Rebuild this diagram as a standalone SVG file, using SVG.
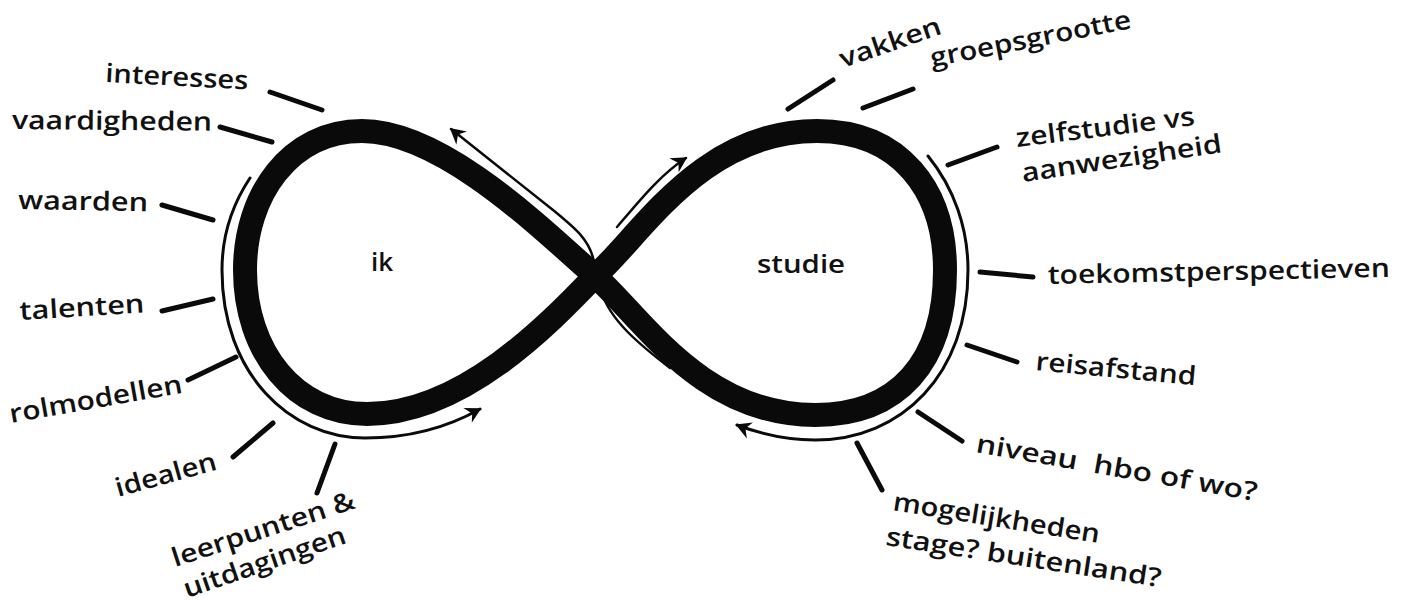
<svg xmlns="http://www.w3.org/2000/svg" width="1410" height="605" viewBox="0 0 1410 605">
  <style>
    .lbl { font-family: "Open Sans", "Noto Sans", "DejaVu Sans", sans-serif; font-size: 26px; font-weight: 600; fill: #111; }
    .ctr { font-family: "Open Sans", "Noto Sans", "DejaVu Sans", sans-serif; font-size: 26px; font-weight: 600; fill: #111; }
    .tick { stroke: #0a0a0a; stroke-width: 5; stroke-linecap: round; fill: none; }
    .thin { stroke: #0a0a0a; stroke-width: 3; stroke-linecap: round; fill: none; }
    .thinner { stroke: #0a0a0a; stroke-width: 2.5; stroke-linecap: round; fill: none; }
  </style>
  <defs>
    <marker id="ah" viewBox="-17 -10 20 20" markerWidth="20" markerHeight="20" refX="0" refY="0" orient="auto" markerUnits="userSpaceOnUse">
      <path d="M1.5,0 L-14,-9 L-9,0 L-14,8 Z" fill="#0a0a0a"/>
    </marker>
  </defs>
  <rect width="1410" height="605" fill="#ffffff"/>

  <g id="infinity">
    <path d="M595,276 C 535,222 440,131 362,131 C 290,131 245,195 245,270 C 245,352 295,414 367,414 C 462,414 548,325 595,276 C 640,237 700,131 817,131 C 900,131 945,190 945,270 C 945,362 898,415 815,415 C 700,415 640,315 595,276 Z" fill="none" stroke="#0a0a0a" stroke-width="24" stroke-linejoin="round"/>
  </g>

  <g id="flow-arrows">
    <path class="thin" d="M250,178 C 232,205 222,235 222,270 C 222,374 290,438 365,438 C 410,438 450,426 480,409" marker-end="url(#ah)"/>
    <path class="thin" d="M928,156 C 954,188 968,228 968,270 C 968,374 902,440 815,440 C 785,440 758,433 737,425" marker-end="url(#ah)"/>
    <path class="thinner" d="M594,262 C 590,240 575,228 553,210 C 530,192 490,160 451,129" marker-end="url(#ah)"/>
    <path class="thinner" d="M617,227 C 640,200 660,175 686,158" marker-end="url(#ah)"/>
    <path class="thinner" d="M602,293 C 610,320 640,345 670,368"/>
  </g>

  <g id="connectors">
    <line class="tick" x1="270" y1="92" x2="322" y2="110"/>
    <line class="tick" x1="220" y1="127" x2="272" y2="142"/>
    <line class="tick" x1="162" y1="205" x2="213" y2="220"/>
    <line class="tick" x1="162" y1="311" x2="213" y2="299"/>
    <line class="tick" x1="188" y1="380" x2="236" y2="357"/>
    <line class="tick" x1="233" y1="457" x2="273" y2="423"/>
    <line class="tick" x1="317" y1="493" x2="335" y2="444"/>
    <line class="tick" x1="788" y1="109" x2="833" y2="80"/>
    <line class="tick" x1="863" y1="108" x2="913" y2="89"/>
    <line class="tick" x1="948" y1="165" x2="997" y2="147"/>
    <line class="tick" x1="980" y1="272" x2="1033" y2="277"/>
    <line class="tick" x1="967" y1="345" x2="1017" y2="362"/>
    <line class="tick" x1="918" y1="412" x2="962" y2="441"/>
    <line class="tick" x1="857" y1="443" x2="882" y2="490"/>
  </g>

  <g id="node-ik"><text class="ctr" x="371" y="271">ik</text></g>
  <g id="node-studie"><text class="ctr" x="757" y="273" textLength="88" lengthAdjust="spacingAndGlyphs">studie</text></g>

  <g id="label-interesses"><text class="lbl" transform="translate(105,82) rotate(3)" textLength="143" lengthAdjust="spacingAndGlyphs">interesses</text></g>
  <g id="label-vaardigheden"><text class="lbl" transform="translate(12,129) rotate(0.5)" textLength="200" lengthAdjust="spacingAndGlyphs">vaardigheden</text></g>
  <g id="label-waarden"><text class="lbl" transform="translate(18,209) rotate(1)" textLength="130" lengthAdjust="spacingAndGlyphs">waarden</text></g>
  <g id="label-talenten"><text class="lbl" transform="translate(20,320) rotate(-3.5)" textLength="125" lengthAdjust="spacingAndGlyphs">talenten</text></g>
  <g id="label-rolmodellen"><text class="lbl" transform="translate(11,423) rotate(-10)" textLength="175" lengthAdjust="spacingAndGlyphs">rolmodellen</text></g>
  <g id="label-idealen"><text class="lbl" transform="translate(118,497) rotate(-15.5)" textLength="104" lengthAdjust="spacingAndGlyphs">idealen</text></g>
  <g id="label-leerpunten">
    <text class="lbl" transform="translate(175,567) rotate(-18)" textLength="191" lengthAdjust="spacingAndGlyphs">leerpunten &amp;</text>
    <text class="lbl" transform="translate(187,598) rotate(-19)" textLength="170" lengthAdjust="spacingAndGlyphs">uitdagingen</text>
  </g>

  <g id="label-vakken"><text class="lbl" transform="translate(843,68) rotate(-19)" textLength="106" lengthAdjust="spacingAndGlyphs">vakken</text></g>
  <g id="label-groepsgrootte"><text class="lbl" transform="translate(932,67) rotate(-11)" textLength="204" lengthAdjust="spacingAndGlyphs">groepsgrootte</text></g>
  <g id="label-zelfstudie">
    <text class="lbl" transform="translate(1017,147) rotate(-7)" textLength="180" lengthAdjust="spacingAndGlyphs">zelfstudie vs</text>
    <text class="lbl" transform="translate(1023,182) rotate(-8.5)" textLength="202" lengthAdjust="spacingAndGlyphs">aanwezigheid</text>
  </g>
  <g id="label-toekomst"><text class="lbl" transform="translate(1048,284) rotate(-1.2)" textLength="342" lengthAdjust="spacingAndGlyphs">toekomstperspectieven</text></g>
  <g id="label-reisafstand"><text class="lbl" transform="translate(1035,370) rotate(5.4)" textLength="161" lengthAdjust="spacingAndGlyphs">reisafstand</text></g>
  <g id="label-niveau"><text class="lbl" transform="translate(975,452) rotate(9.9)" textLength="285" lengthAdjust="spacingAndGlyphs" xml:space="preserve">niveau  hbo of wo?</text></g>
  <g id="label-mogelijkheden">
    <text class="lbl" transform="translate(892,510) rotate(9.1)" textLength="209" lengthAdjust="spacingAndGlyphs">mogelijkheden</text>
    <text class="lbl" transform="translate(885,545) rotate(8.7)" textLength="278" lengthAdjust="spacingAndGlyphs">stage? buitenland?</text>
  </g>
</svg>
